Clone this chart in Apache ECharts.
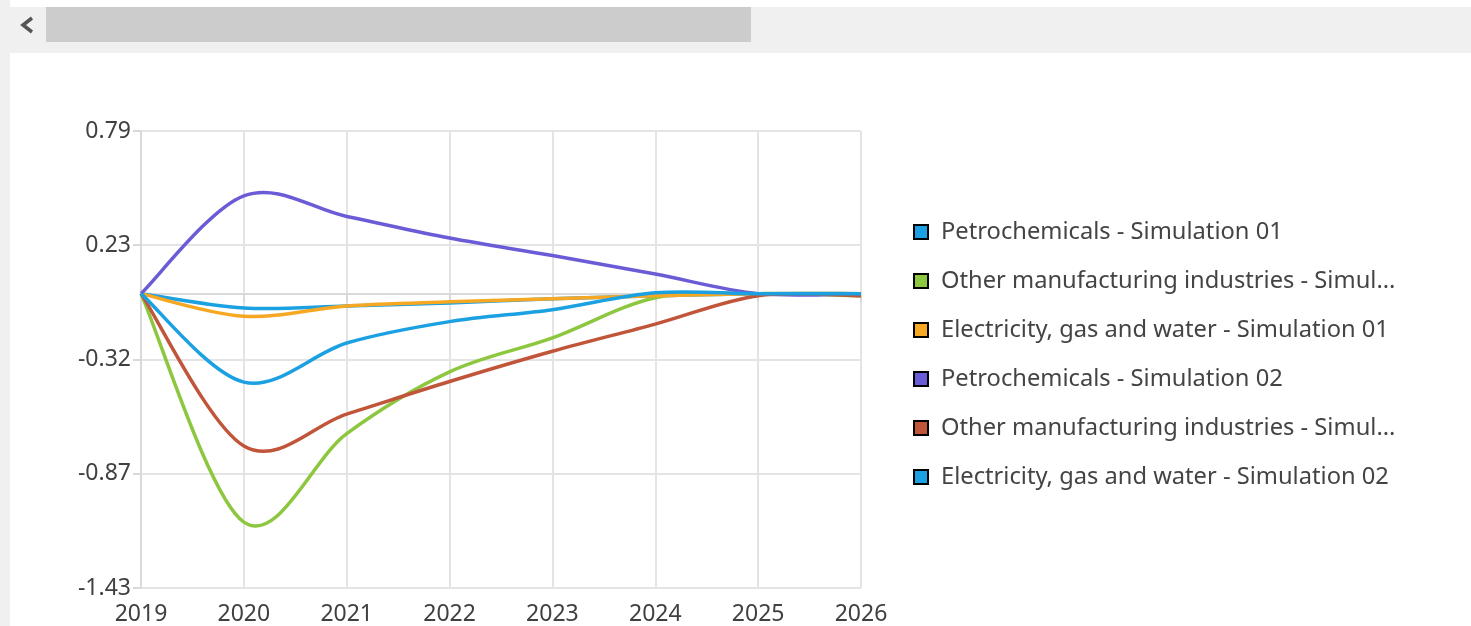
<!DOCTYPE html>
<html>
<head>
<meta charset="utf-8">
<script src="https://cdn.jsdelivr.net/npm/echarts@6/dist/echarts.min.js"></script>
<style>
  html, body { margin: 0; padding: 0; background: #fff; }
  #chart { width: 1471px; height: 626px; }
</style>
</head>
<body>
<div id="chart"></div>
<script>
const years = [2019, 2020, 2021, 2022, 2023, 2024, 2025, 2026];
const yTickLabels = ["-1.43", "-0.87", "-0.32", "0.23", "0.79"];

const petroSim01 = [0, -0.07, -0.06, -0.045, -0.025, -0.01, 0, 0];
const otherSim01 = [0, -1.11, -0.68, -0.38, -0.215, -0.02, 0, -0.01];
const elecSim01 = [0, -0.11, -0.06, -0.04, -0.025, -0.01, 0, 0];
const petroSim02 = [0, 0.475, 0.375, 0.27, 0.185, 0.095, 0, 0];
const otherSim02 = [0, -0.74, -0.585, -0.427, -0.28, -0.148, -0.01, -0.01];
const elecSim02 = [0, -0.43, -0.24, -0.136, -0.078, 0.004, 0, 0];

const seriesDefs = [
  { name: "Petrochemicals - Simulation 01", data: petroSim01, color: "#1ba1e2" },
  { name: "Other manufacturing industries - Simulation 01", data: otherSim01, color: "#8dc63f" },
  { name: "Electricity, gas and water - Simulation 01", data: elecSim01, color: "#f7a823" },
  { name: "Petrochemicals - Simulation 02", data: petroSim02, color: "#6a5bd6" },
  { name: "Other manufacturing industries - Simulation 02", data: otherSim02, color: "#c1553a" },
  { name: "Electricity, gas and water - Simulation 02", data: elecSim02, color: "#1ba1e2" }
];

// catmull-rom style curve through the data points, in pixel space
function splinePath(pts) {
  let d = "M" + pts[0][0] + " " + pts[0][1];
  for (let i = 0; i < pts.length - 1; i++) {
    const p0 = pts[Math.max(i - 1, 0)];
    const p1 = pts[i];
    const p2 = pts[i + 1];
    const p3 = pts[Math.min(i + 2, pts.length - 1)];
    const c1x = p1[0] + (p2[0] - p0[0]) / 6;
    const c1y = p1[1] + (p2[1] - p0[1]) / 6;
    const c2x = p2[0] - (p3[0] - p1[0]) / 6;
    const c2y = p2[1] - (p3[1] - p1[1]) / 6;
    d += " C" + c1x + " " + c1y + " " + c2x + " " + c2y + " " + p2[0] + " " + p2[1];
  }
  return d;
}

// long names get cut the way the legend does it
function shortName(name) {
  return name.length > 42 ? name.slice(0, 38) + "..." : name;
}

const chart = echarts.init(document.getElementById("chart"));

const option = {
  animation: false,
  textStyle: { fontFamily: "Noto Sans" },
  graphic: [
    { type: "rect", shape: { x: 0, y: 0, width: 10, height: 626 }, style: { fill: "#f0f0f0" } },
    { type: "rect", shape: { x: 0, y: 7, width: 1471, height: 46 }, style: { fill: "#f0f0f0" } },
    { type: "rect", shape: { x: 46, y: 7, width: 705, height: 35 }, style: { fill: "#cccccc" } },
    {
      type: "polyline",
      shape: { points: [[32, 18], [23, 25], [32, 32]] },
      style: { stroke: "#555", lineWidth: 3.5, fill: null }
    }
  ],
  grid: { left: 141, right: 610, top: 131, bottom: 37 },
  legend: {
    orient: "vertical",
    left: 908,
    top: 215,
    itemGap: 25,
    itemWidth: 14,
    itemHeight: 14,
    icon: "rect",
    itemStyle: { borderColor: "#000", borderWidth: 2 },
    formatter: shortName,
    textStyle: {
      fontFamily: "Noto Sans",
      fontSize: 23.7,
      color: "#444",
      padding: [0, 0, 0, 8]
    },
    data: seriesDefs.map(s => s.name)
  },
  xAxis: {
    type: "value",
    min: 2019,
    max: 2026,
    interval: 1,
    axisLine: { lineStyle: { color: "#d9d9d9", width: 2 } },
    axisTick: { show: true, length: 8, lineStyle: { color: "#d9d9d9", width: 2 } },
    axisLabel: { fontSize: 23, color: "#404040", margin: 15, formatter: v => String(v) },
    splitLine: { show: true, lineStyle: { color: "#e4e4e4", width: 2 } }
  },
  yAxis: {
    type: "value",
    min: -1.43,
    max: 0.79,
    interval: 0.555,
    axisLine: { show: true, lineStyle: { color: "#d9d9d9", width: 2 } },
    axisTick: { show: true, length: 8, lineStyle: { color: "#d9d9d9", width: 2 } },
    axisLabel: {
      fontSize: 23,
      color: "#404040",
      margin: 10,
      formatter: (v, i) => yTickLabels[i]
    },
    splitLine: { show: true, lineStyle: { color: "#e4e4e4", width: 2 } }
  },
  series: seriesDefs.map(s => ({
    name: s.name,
    type: "custom",
    itemStyle: { color: s.color },
    data: years.map((y, i) => [y, s.data[i]]),
    encode: { x: 0, y: 1 },
    renderItem: (params, api) => {
      if (params.dataIndex !== 0) return null;
      const pts = years.map((y, i) => api.coord([y, s.data[i]]));
      return {
        type: "path",
        shape: { pathData: splinePath(pts) },
        style: { fill: null, stroke: s.color, lineWidth: 3.5, lineJoin: "round" }
      };
    }
  }))
};

chart.setOption(option);
</script>
</body>
</html>
